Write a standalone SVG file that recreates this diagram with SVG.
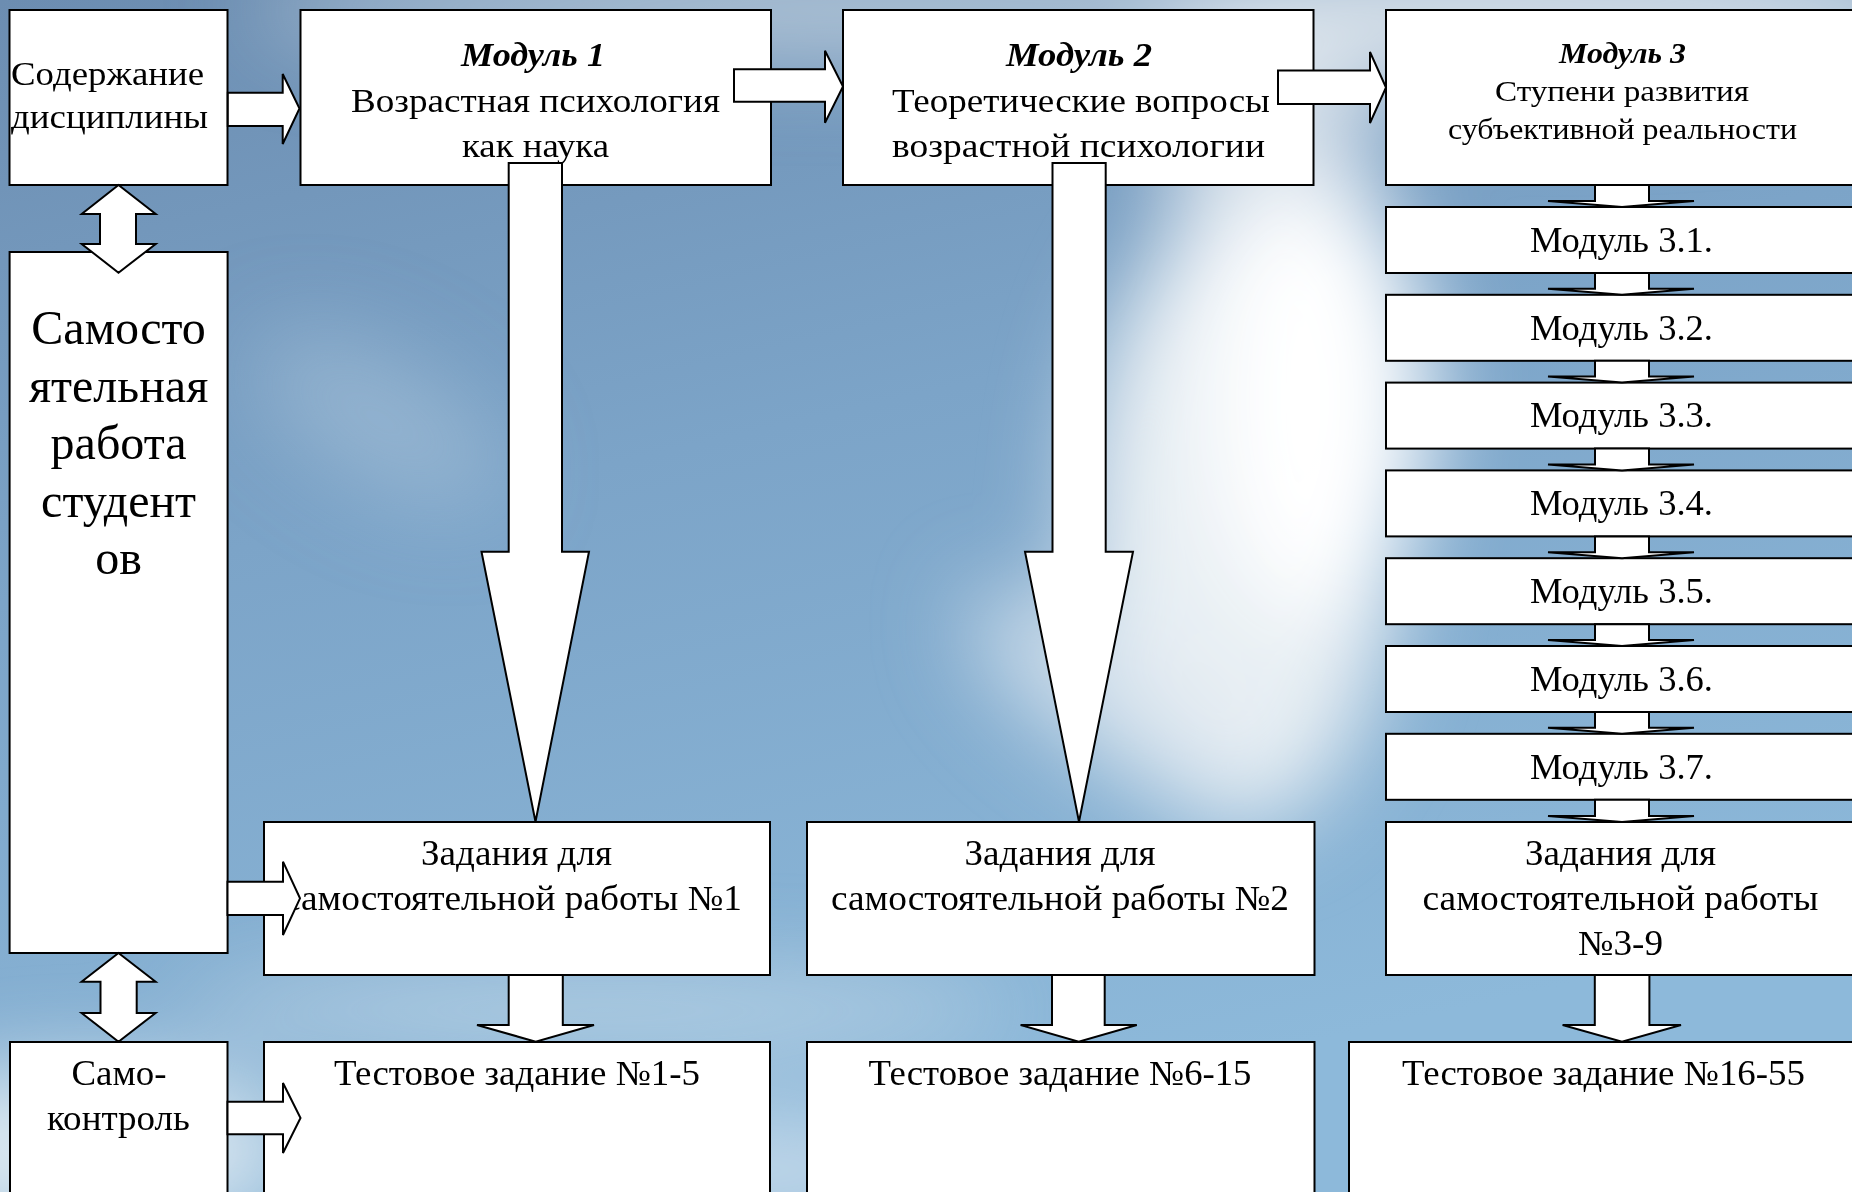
<svg xmlns="http://www.w3.org/2000/svg" width="1852" height="1192" viewBox="0 0 1852 1192">
<defs>
<linearGradient id="sky" x1="0" y1="0" x2="0.35" y2="1">
<stop offset="0" stop-color="#6c8db1"/>
<stop offset="0.45" stop-color="#7ca4c8"/>
<stop offset="1" stop-color="#8db9da"/>
</linearGradient>
<filter id="blur" x="-50%" y="-50%" width="200%" height="200%"><feGaussianBlur stdDeviation="45"/></filter>
<style>
.box{fill:#fff;stroke:#000;stroke-width:2}
.arr{fill:#fff;stroke:#000;stroke-width:2;stroke-linejoin:miter}
.t{font-family:"Liberation Serif","Times New Roman",serif;fill:#000}
.c{text-anchor:middle}
.h{font-weight:bold;font-style:italic}
</style>
</defs>
<g id="background">
<rect x="0" y="0" width="1852" height="1192" fill="url(#sky)"/>
<g filter="url(#blur)">
<ellipse cx="900" cy="10" rx="650" ry="50" fill="#c4d3e0" opacity="0.8"/>
<ellipse cx="1550" cy="20" rx="420" ry="70" fill="#dfe6ec" opacity="0.9"/>
<ellipse cx="1270" cy="170" rx="100" ry="170" fill="#e4eaf0" opacity="0.85"/>
<ellipse cx="1240" cy="520" rx="160" ry="310" fill="#eef2f6" opacity="0.95"/>
<ellipse cx="1320" cy="400" rx="110" ry="220" fill="#ffffff"/>
<ellipse cx="1110" cy="700" rx="170" ry="60" fill="#dbe6ef" opacity="0.8" transform="rotate(35 1110 700)"/>
<ellipse cx="600" cy="1010" rx="420" ry="35" fill="#cfdfeb" opacity="0.7"/>
<ellipse cx="80" cy="1150" rx="220" ry="80" fill="#e6eef4" opacity="0.9"/>
<ellipse cx="760" cy="1170" rx="180" ry="50" fill="#d6e4ef" opacity="0.8"/>
<ellipse cx="380" cy="420" rx="140" ry="60" fill="#a7c1d8" opacity="0.6" transform="rotate(30 380 420)"/>
</g>
</g>
<g id="n_soderzhanie">
<rect class="box" x="9.5" y="10" width="218" height="175"/>
<text class="t" x="11" y="85" font-size="34" textLength="193" lengthAdjust="spacingAndGlyphs">Содержание</text>
<text class="t" x="11" y="128" font-size="34" textLength="197" lengthAdjust="spacingAndGlyphs">дисциплины</text>
</g>
<g id="n_modul1">
<rect class="box" x="300.5" y="10" width="470.5" height="175"/>
<text class="t c h" x="533" y="66" font-size="33" textLength="144" lengthAdjust="spacingAndGlyphs">Модуль 1</text>
<text class="t c" x="535.5" y="112" font-size="33" textLength="369" lengthAdjust="spacingAndGlyphs">Возрастная психология</text>
<text class="t c" x="535.5" y="157" font-size="33" textLength="147" lengthAdjust="spacingAndGlyphs">как наука</text>
</g>
<g id="n_modul2">
<rect class="box" x="843" y="10" width="470.5" height="175"/>
<text class="t c h" x="1079" y="66" font-size="33" textLength="146" lengthAdjust="spacingAndGlyphs">Модуль 2</text>
<text class="t c" x="1081" y="112" font-size="33" textLength="378" lengthAdjust="spacingAndGlyphs">Теоретические вопросы</text>
<text class="t c" x="1078.5" y="157" font-size="33" textLength="373" lengthAdjust="spacingAndGlyphs">возрастной психологии</text>
</g>
<g id="n_modul3">
<rect class="box" x="1386" y="10" width="474" height="175"/>
<text class="t c h" x="1622.5" y="63" font-size="29" textLength="127" lengthAdjust="spacingAndGlyphs">Модуль 3</text>
<text class="t c" x="1622" y="101" font-size="29" textLength="254" lengthAdjust="spacingAndGlyphs">Ступени развития</text>
<text class="t c" x="1622.5" y="139" font-size="29" textLength="349" lengthAdjust="spacingAndGlyphs">субъективной реальности</text>
</g>
<g id="n_modul3_1">
<rect class="box" x="1386" y="207" width="474" height="66"/>
<text class="t c" x="1621.5" y="251.7" font-size="35" textLength="183" lengthAdjust="spacingAndGlyphs">Модуль 3.1.</text>
</g>
<g id="n_modul3_2">
<rect class="box" x="1386" y="294.8" width="474" height="66"/>
<text class="t c" x="1621.5" y="339.5" font-size="35" textLength="183" lengthAdjust="spacingAndGlyphs">Модуль 3.2.</text>
</g>
<g id="n_modul3_3">
<rect class="box" x="1386" y="382.6" width="474" height="66"/>
<text class="t c" x="1621.5" y="427.3" font-size="35" textLength="183" lengthAdjust="spacingAndGlyphs">Модуль 3.3.</text>
</g>
<g id="n_modul3_4">
<rect class="box" x="1386" y="470.4" width="474" height="66"/>
<text class="t c" x="1621.5" y="515.1" font-size="35" textLength="183" lengthAdjust="spacingAndGlyphs">Модуль 3.4.</text>
</g>
<g id="n_modul3_5">
<rect class="box" x="1386" y="558.2" width="474" height="66"/>
<text class="t c" x="1621.5" y="602.9" font-size="35" textLength="183" lengthAdjust="spacingAndGlyphs">Модуль 3.5.</text>
</g>
<g id="n_modul3_6">
<rect class="box" x="1386" y="646" width="474" height="66"/>
<text class="t c" x="1621.5" y="690.7" font-size="35" textLength="183" lengthAdjust="spacingAndGlyphs">Модуль 3.6.</text>
</g>
<g id="n_modul3_7">
<rect class="box" x="1386" y="733.8" width="474" height="66"/>
<text class="t c" x="1621.5" y="778.5" font-size="35" textLength="183" lengthAdjust="spacingAndGlyphs">Модуль 3.7.</text>
</g>
<g id="n_samostoyatelnaya">
<rect class="box" x="9.6" y="252" width="218" height="701"/>
<text class="t c" x="118.6" y="344" font-size="48">Самосто</text>
<text class="t c" x="118.6" y="402" font-size="48">ятельная</text>
<text class="t c" x="118.6" y="459" font-size="48">работа</text>
<text class="t c" x="118.6" y="517" font-size="48">студент</text>
<text class="t c" x="118.6" y="574" font-size="48">ов</text>
</g>
<g id="n_zadaniya1">
<rect class="box" x="264" y="822" width="506" height="153"/>
<text class="t c" x="516.5" y="865" font-size="35" textLength="191" lengthAdjust="spacingAndGlyphs">Задания для</text>
<text class="t c" x="513" y="910" font-size="35" textLength="458" lengthAdjust="spacingAndGlyphs">самостоятельной работы №1</text>
</g>
<g id="n_zadaniya2">
<rect class="box" x="807" y="822" width="507.5" height="153"/>
<text class="t c" x="1060" y="865" font-size="35" textLength="191" lengthAdjust="spacingAndGlyphs">Задания для</text>
<text class="t c" x="1060" y="910" font-size="35" textLength="458" lengthAdjust="spacingAndGlyphs">самостоятельной работы №2</text>
</g>
<g id="n_zadaniya3">
<rect class="box" x="1386" y="822" width="474" height="153"/>
<text class="t c" x="1620.5" y="865" font-size="35" textLength="191" lengthAdjust="spacingAndGlyphs">Задания для</text>
<text class="t c" x="1620.5" y="910" font-size="35" textLength="396" lengthAdjust="spacingAndGlyphs">самостоятельной работы</text>
<text class="t c" x="1620.5" y="955" font-size="35" textLength="85" lengthAdjust="spacingAndGlyphs">№3-9</text>
</g>
<g id="n_samokontrol">
<rect class="box" x="10" y="1042" width="217.5" height="170"/>
<text class="t c" x="119" y="1085" font-size="35" textLength="95" lengthAdjust="spacingAndGlyphs">Само-</text>
<text class="t c" x="118.5" y="1130" font-size="35" textLength="143" lengthAdjust="spacingAndGlyphs">контроль</text>
</g>
<g id="n_test1">
<rect class="box" x="264" y="1042" width="506" height="170"/>
<text class="t c" x="517" y="1085" font-size="35" textLength="366" lengthAdjust="spacingAndGlyphs">Тестовое задание №1-5</text>
</g>
<g id="n_test2">
<rect class="box" x="807" y="1042" width="507.5" height="170"/>
<text class="t c" x="1060" y="1085" font-size="35" textLength="383" lengthAdjust="spacingAndGlyphs">Тестовое задание №6-15</text>
</g>
<g id="n_test3">
<rect class="box" x="1349" y="1042" width="511" height="170"/>
<text class="t c" x="1603.5" y="1085" font-size="35" textLength="403" lengthAdjust="spacingAndGlyphs">Тестовое задание №16-55</text>
</g>
<g id="connectors">
<polygon class="arr" points="227.8,92.7 282.7,92.7 282.7,74 299.5,108.5 282.7,144 282.7,126 227.8,126"/>
<polygon class="arr" points="734,69.3 825,69.3 825,50.7 843,86.5 825,122.7 825,101.7 734,101.7"/>
<polygon class="arr" points="1278,70.5 1370,70.5 1370,52 1386,87.5 1370,123 1370,104 1278,104"/>
<polygon class="arr" points="118.5,185 155.7,214 136,214 136,244 155.7,244 118.5,272.7 81.7,244 100,244 100,214 81.7,214"/>
<polygon class="arr" points="118.5,953 155.6,981.7 136.7,981.7 136.7,1013 155.6,1013 118.5,1041.7 81.6,1013 100.5,1013 100.5,981.7 81.6,981.7"/>
<polygon class="arr" points="227.5,881.7 283,881.7 283,861.7 300,898.3 283,935 283,915 227.5,915"/>
<polygon class="arr" points="227.5,1101.7 283,1101.7 283,1083 300.5,1118 283,1153 283,1134.3 227.5,1134.3"/>
<polygon class="arr" points="508.7,163 562,163 562,551.7 589,551.7 535.5,821.7 481.5,551.7 508.7,551.7"/>
<polygon class="arr" points="1052.5,163 1105.7,163 1105.7,551.7 1133,551.7 1079,821.7 1025,551.7 1052.5,551.7"/>
<polygon class="arr" points="508.7,975 562.8,975 562.8,1025 594,1025 535.7,1041.7 477,1025 508.7,1025"/>
<polygon class="arr" points="1052,975 1104.7,975 1104.7,1025 1136.8,1025 1078.7,1041.7 1020.6,1025 1052,1025"/>
<polygon class="arr" points="1594.8,975 1649.4,975 1649.4,1025 1681,1025 1622,1041.7 1562.6,1025 1594.8,1025"/>
<polygon class="arr" points="1595,185 1649,185 1649,201 1694,201 1622,207 1548,201 1595,201"/>
<polygon class="arr" points="1595,273 1649,273 1649,288.8 1694,288.8 1622,294.8 1548,288.8 1595,288.8"/>
<polygon class="arr" points="1595,360.8 1649,360.8 1649,376.6 1694,376.6 1622,382.6 1548,376.6 1595,376.6"/>
<polygon class="arr" points="1595,448.6 1649,448.6 1649,464.4 1694,464.4 1622,470.4 1548,464.4 1595,464.4"/>
<polygon class="arr" points="1595,536.4 1649,536.4 1649,552.2 1694,552.2 1622,558.2 1548,552.2 1595,552.2"/>
<polygon class="arr" points="1595,624.2 1649,624.2 1649,640 1694,640 1622,646 1548,640 1595,640"/>
<polygon class="arr" points="1595,712 1649,712 1649,727.8 1694,727.8 1622,733.8 1548,727.8 1595,727.8"/>
<polygon class="arr" points="1595,799.8 1649,799.8 1649,816 1694,816 1622,822 1548,816 1595,816"/>
</g>
</svg>
